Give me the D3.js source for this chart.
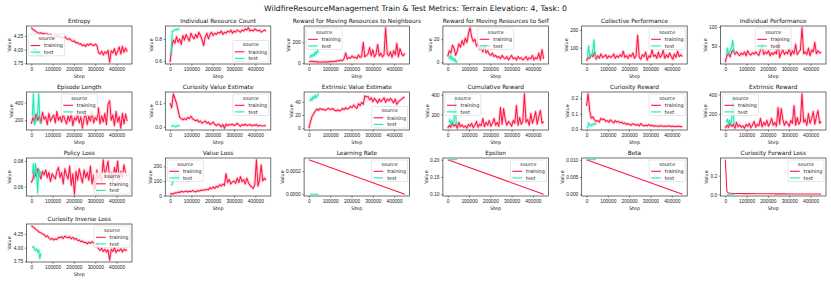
<!DOCTYPE html>
<html>
<head>
<meta charset="utf-8">
<script src="https://cdn.jsdelivr.net/npm/d3@7"></script>
<style>
  body { margin: 0; background: #fff; }
  svg { display: block; font-family: "DejaVu Sans", sans-serif; }
  .axis text { font-size: 4.85px; fill: #222; }
  .axis line { stroke: #333; stroke-width: 0.6; }
  .axis .domain { display: none; }
</style>
</head>
<body>
<script>
const figTitle = "WildfireResourceManagement Train & Test Metrics: Terrain Elevation: 4, Task: 0"
const colors = {training: "#ff1744", test: "#1de9b6"}

// x values shared by most panels
const trainSteps = [
  0, 7500, 15000, 22500, 30000, 37500, 45000, 52500, 60000, 67500,
  75000, 82500, 90000, 97500, 105000, 112500, 120000, 127500, 135000, 142500,
  150000, 157500, 165000, 172500, 180000, 187500, 195000, 202500, 210000, 217500,
  225000, 232500, 240000, 247500, 255000, 262500, 270000, 277500, 285000, 292500,
  300000, 307500, 315000, 322500, 330000, 337500, 345000, 352500, 360000, 367500,
  375000, 382500, 390000, 397500, 405000, 412500, 420000, 427500, 435000, 442500,
  450000]
const testSteps = [5000, 10000, 15000, 20000, 25000, 30000, 35000, 40000, 45000]
const scheduleSteps = [0, 450000]
const scheduleTestSteps = [5000, 45000]
const xTickLabels = ["0", "100000", "200000", "300000", "400000"]

const entropyTrain = [
  4.40, 4.37, 4.35, 4.33, 4.31, 4.30, 4.31, 4.29, 4.30, 4.28,
  4.29, 4.27, 4.28, 4.22, 4.18, 4.24, 4.25, 4.23, 4.24, 4.22,
  4.21, 4.24, 4.20, 4.19, 4.20, 4.17, 4.15, 4.16, 4.12, 4.13,
  4.10, 4.11, 4.07, 4.09, 4.06, 4.10, 4.08, 4.11, 4.09, 4.07,
  4.10, 4.08, 3.95, 3.92, 3.97, 3.90, 3.96, 3.93, 3.99, 3.77,
  3.98, 3.94, 4.02, 3.90, 3.97, 4.05, 3.92, 4.06, 3.95, 4.03,
  3.96]
const entropyTest = [4.05, 4.00, 3.98, 4.02, 3.95, 3.90, 3.97, 3.93, 3.88]
const entropyTicks = ["3.75", "4.00", "4.25"]

const resourceCountTrain = [
  0.59, 0.72, 0.79, 0.76, 0.82, 0.77, 0.80, 0.75, 0.83, 0.79,
  0.84, 0.81, 0.78, 0.85, 0.82, 0.80, 0.84, 0.81, 0.86, 0.83,
  0.79, 0.74, 0.82, 0.85, 0.80, 0.84, 0.86, 0.83, 0.85, 0.84,
  0.86, 0.85, 0.87, 0.84, 0.86, 0.85, 0.87, 0.86, 0.88, 0.85,
  0.87, 0.86, 0.88, 0.87, 0.86, 0.88, 0.87, 0.89, 0.88, 0.90,
  0.87, 0.88, 0.87, 0.89, 0.88, 0.87, 0.88, 0.86, 0.87, 0.88,
  0.87]
const resourceCountTest = [0.65, 0.87, 0.87, 0.88, 0.88, 0.89, 0.88, 0.89, 0.89]
const resourceCountTicks = ["0.6", "0.8"]

const neighboursTrain = [
  20, 15, 22, 12, 18, 10, 14, 9, 12, 11,
  13, 10, 15, 12, 18, 14, 20, 16, 25, 22,
  30, 24, 45, 100, 40, 55, 48, 70, 52, 60,
  45, 80, 55, 65, 200, 60, 75, 90, 150, 70,
  130, 60, 85, 180, 70, 95, 60, 80, 340, 90,
  70, 110, 55, 120, 80, 190, 60, 140, 90, 70,
  95]
const neighboursTest = [50, 80, 60, 90, 70, 110, 85, 125, 100]
const neighboursTicks = ["0", "200"]

const selfTrain = [
  5, 10, 8, 15, 12, 6, 10, 16, 13, 19,
  15, 21, 17, 25, 30, 22, 18, 20, 14, 16,
  11, 13, 9, 15, 8, 10, 7, 6, 8, 5,
  6, 4, 5, 3, 6, 4, 3, 5, 2, 4,
  6, 3, 4, 2, 5, 3, 4, 2, 3, 5,
  2, 4, 3, 6, 2, 4, 3, 8, 2, 11,
  3]
const selfTest = [5, 3, 6, 2, 4, 1, 3, 0, 1]
const selfTicks = ["0", "20"]

const collectiveTrain = [
  25, 45, 40, 60, 50, 75, 35, 55, 40, 65,
  45, 50, 60, 40, 55, 45, 50, 65, 40, 55,
  45, 60, 50, 80, 45, 55, 40, 60, 50, 70,
  40, 55, 170, 45, 35, 60, 50, 75, 30, 55,
  45, 90, 50, 60, 40, 75, 45, 55, 85, 40,
  60, 45, 70, 50, 35, 65, 45, 80, 50, 60,
  50]
const collectiveTest = [50, 110, 45, 60, 55, 90, 145, 60, 40]
const collectiveBand = [18, 212]
const collectiveTicks = ["100", "200"]

const indPerfTrain = [
  8, 25, 30, 22, 35, 40, 28, 35, 30, 25,
  32, 28, 35, 25, 38, 30, 27, 33, 29, 35,
  30, 26, 40, 55, 28, 35, 30, 38, 25, 33,
  28, 35, 30, 65, 20, 32, 40, 28, 35, 30,
  45, 25, 38, 30, 55, 28, 35, 40, 98, 30,
  35, 28, 45, 25, 40, 35, 60, 30, 38, 32,
  35]
const indPerfTest = [25, 45, 30, 35, 40, 50, 65, 35, 30]
const indPerfTicks = ["50", "100"]

const episodeTrain = [
  160, 230, 180, 270, 200, 250, 170, 290, 210, 240,
  150, 280, 190, 230, 260, 170, 300, 200, 240, 180,
  270, 210, 160, 250, 190, 280, 140, 230, 200, 260,
  170, 240, 110, 220, 280, 150, 250, 190, 300, 170,
  230, 200, 340, 160, 250, 180, 280, 150, 380, 420,
  200, 260, 140, 300, 180, 240, 110, 280, 160, 270,
  190]
const episodeTest = [250, 500, 150, 180, 220, 300, 500, 200, 160]
const episodeTicks = ["200", "400"]

const curValueTrain = [
  0.10, 0.08, 0.14, 0.12, 0.10, 0.07, 0.04, 0.035, 0.03, 0.035,
  0.03, 0.04, 0.035, 0.045, 0.035, 0.03, 0.025, 0.03, 0.02, 0.025,
  0.015, 0.02, 0.025, 0.015, 0.02, 0.01, 0.015, 0.02, 0.01, 0.005,
  0.012, 0.008, 0.0, 0.01, -0.006, 0.012, 0.005, 0.01, 0.008, 0.012,
  0.005, 0.01, 0.015, 0.008, 0.002, 0.01, 0.006, 0.012, 0.005, 0.008,
  0.01, 0.004, 0.008, 0.006, 0.01, 0.003, 0.007, 0.005, 0.004, 0.006,
  0.003]
const curValueTest = [0.005, 0.003, 0.006, 0.002, 0.0, 0.004, 0.002, 0.006, 0.008]
const curValueTicks = ["0.0", "0.1"]

const extValueTrain = [
  0, 10, 18, 22, 26, 29, 27, 30, 28, 29,
  27, 28, 30, 29, 28, 30, 27, 26, 28, 26,
  27, 30, 28, 31, 29, 30, 33, 31, 35, 32,
  30, 37, 34, 39, 36, 49, 47, 48, 43, 46,
  40, 45, 42, 38, 44, 40, 43, 46, 39, 44,
  41, 45, 42, 38, 44, 36, 40, 42, 44, 46,
  47]
const extValueTest = [40, 45, 42, 48, 45, 50, 46, 49, 52]
const extValueTicks = ["0", "20", "40"]

const cumRewardTrain = [
  60, 90, 70, 110, 80, 100, 60, 120, 75, 95,
  70, 85, 60, 100, 80, 110, 65, 90, 130, 70,
  100, 85, 160, 75, 120, 90, 140, 80, 110, 160,
  90, 120, 80, 270, 100, 260, 150, 90, 130, 110,
  80, 140, 110, 290, 90, 170, 100, 130, 410, 120,
  150, 90, 210, 110, 160, 230, 100, 180, 240, 110,
  130]
const cumRewardTest = [120, 150, 90, 140, 100, 130, 380, 110, 100]
const cumRewardTicks = ["200", "400"]

const curRewardTrain = [
  0.15, 0.23, 0.12, 0.07, 0.08, 0.06, 0.05, 0.055, 0.045, 0.07,
  0.06, 0.065, 0.05, 0.055, 0.045, 0.06, 0.05, 0.04, 0.055, 0.045,
  0.05, 0.04, 0.045, 0.035, 0.04, 0.03, 0.035, 0.03, 0.025, 0.035,
  0.03, 0.025, 0.03, 0.02, 0.035, 0.025, 0.02, 0.025, 0.02, 0.03,
  0.02, 0.025, 0.018, 0.022, 0.02, 0.017, 0.022, 0.02, 0.018, 0.02,
  0.017, 0.021, 0.019, 0.016, 0.02, 0.015, 0.018, 0.016, 0.019, 0.015,
  0.016]
const curRewardTest = [0.005, 0.04, 0.03, 0.02, 0.03, 0.025, 0.035, 0.03, 0.04]
const curRewardTicks = ["0.0", "0.1", "0.2"]

const extRewardTrain = [
  58, 88, 68, 108, 78, 98, 58, 118, 73, 93,
  68, 83, 58, 98, 78, 108, 63, 88, 128, 68,
  98, 83, 158, 73, 118, 88, 138, 78, 108, 158,
  88, 118, 78, 268, 98, 258, 148, 88, 128, 108,
  78, 138, 108, 288, 88, 168, 98, 128, 408, 118,
  148, 88, 208, 108, 158, 228, 98, 178, 238, 108,
  128]
const extRewardTest = [120, 150, 90, 140, 100, 130, 380, 110, 100]
const extRewardTicks = ["200", "400"]

const policyTrain = [
  0.063, 0.066, 0.072, 0.068, 0.074, 0.070, 0.066, 0.072, 0.069, 0.073,
  0.067, 0.071, 0.064, 0.070, 0.068, 0.066, 0.072, 0.075, 0.067, 0.071,
  0.062, 0.074, 0.069, 0.066, 0.076, 0.061, 0.070, 0.054, 0.072, 0.065,
  0.074, 0.068, 0.063, 0.073, 0.067, 0.071, 0.065, 0.076, 0.062, 0.069,
  0.058, 0.073, 0.066, 0.070, 0.064, 0.081, 0.068, 0.074, 0.080, 0.066,
  0.071, 0.063, 0.075, 0.069, 0.080, 0.065, 0.072, 0.067, 0.077, 0.070,
  0.068]
const policyTest = [0.070, 0.078, 0.066, 0.078, 0.070, 0.055, 0.074, 0.068, 0.072]
const policyTicks = ["0.06", "0.08"]

const valueLossTrain = [
  10, 15, 12, 20, 18, 25, 22, 30, 25, 28,
  32, 26, 30, 28, 35, 30, 26, 34, 30, 38,
  35, 42, 38, 45, 40, 55, 48, 60, 50, 65,
  58, 75, 65, 80, 70, 150, 90, 110, 80, 95,
  100, 85, 120, 90, 130, 95, 110, 80, 120, 90,
  70, 60, 50, 75, 245, 65, 110, 210, 100, 120,
  105]
const valueLossTest = [70, 80, 100, 130, 160, 120, 140, 110, 150]
const valueLossTicks = ["0", "100", "200"]

const lrTrain = [0.0003, 0.0000005]
const lrTest = [0.000001, 0.000001]
const lrTicks = ["0.0000", "0.0002"]

const epsilonTrain = [0.2, 0.1]
const epsilonTest = [0.2, 0.2]
const epsilonTicks = ["0.10", "0.15", "0.20"]

const betaTrain = [0.01, 0.00001]
const betaTest = [0.01, 0.01]
const betaTicks = ["0.000", "0.005", "0.010"]

const fwdLossTrain = [
  0.37, 0.03, 0.016, 0.013, 0.012, 0.011, 0.011, 0.010, 0.010, 0.010,
  0.010, 0.009, 0.010, 0.009, 0.009, 0.009, 0.008, 0.009, 0.008, 0.008,
  0.008, 0.008, 0.008, 0.007, 0.008, 0.007, 0.007, 0.007, 0.007, 0.007,
  0.007, 0.006, 0.007, 0.006, 0.006, 0.006, 0.006, 0.006, 0.006, 0.005,
  0.006, 0.005, 0.005, 0.005, 0.005, 0.005, 0.005, 0.005, 0.004, 0.005,
  0.004, 0.005, 0.004, 0.004, 0.004, 0.004, 0.004, 0.004, 0.004, 0.004,
  0.004]
const fwdLossTest = [0.004, 0.003, 0.003, 0.002, 0.002, 0.002, 0.002, 0.002, 0.002]
const fwdLossTicks = ["0.0", "0.2"]

const invLossTrain = [
  4.40, 4.38, 4.36, 4.33, 4.31, 4.28, 4.27, 4.25, 4.24, 4.20,
  4.22, 4.18, 4.15, 4.17, 4.14, 4.16, 4.15, 4.19, 4.18, 4.20,
  4.17, 4.21, 4.19, 4.18, 4.20, 4.16, 4.19, 4.15, 4.17, 4.13,
  4.14, 4.11, 4.12, 4.09, 4.10, 4.07, 4.10, 4.08, 4.11, 4.09,
  4.06, 4.08, 3.98, 3.95, 3.99, 3.93, 3.97, 3.92, 3.96, 3.77,
  3.97, 3.93, 4.00, 3.91, 3.96, 3.94, 3.98, 3.92, 3.97, 3.95,
  3.96]
const invLossTest = [4.00, 4.02, 3.97, 3.95, 3.98, 3.92, 3.96, 3.80, 3.90]
const invLossTicks = ["3.75", "4.00", "4.25"]

const panels = [
  {title: "Entropy", train: entropyTrain, test: entropyTest, ticks: entropyTicks, legend: "cl"},
  {title: "Individual Resource Count", train: resourceCountTrain, test: resourceCountTest, ticks: resourceCountTicks, legend: "lr"},
  {title: "Reward for Moving Resources to Neighbours", train: neighboursTrain, test: neighboursTest, ticks: neighboursTicks, legend: "ul"},
  {title: "Reward for Moving Resources to Self", train: selfTrain, test: selfTest, ticks: selfTicks, legend: "uc"},
  {title: "Collective Performance", train: collectiveTrain, test: collectiveTest, ticks: collectiveTicks, legend: "ur", band: collectiveBand},
  {title: "Individual Performance", train: indPerfTrain, test: indPerfTest, ticks: indPerfTicks, legend: "uc"},
  {title: "Episode Length", train: episodeTrain, test: episodeTest, ticks: episodeTicks, legend: "uc"},
  {title: "Curiosity Value Estimate", train: curValueTrain, test: curValueTest, ticks: curValueTicks, legend: "ur"},
  {title: "Extrinsic Value Estimate", train: extValueTrain, test: extValueTest, ticks: extValueTicks, legend: "lr"},
  {title: "Cumulative Reward", train: cumRewardTrain, test: cumRewardTest, ticks: cumRewardTicks, legend: "ul"},
  {title: "Curiosity Reward", train: curRewardTrain, test: curRewardTest, ticks: curRewardTicks, legend: "ur"},
  {title: "Extrinsic Reward", train: extRewardTrain, test: extRewardTest, ticks: extRewardTicks, legend: "ul"},
  {title: "Policy Loss", train: policyTrain, test: policyTest, ticks: policyTicks, legend: "lr"},
  {title: "Value Loss", train: valueLossTrain, test: valueLossTest, ticks: valueLossTicks, legend: "ul"},
  {title: "Learning Rate", train: lrTrain, test: lrTest, ticks: lrTicks, legend: "ur", steps: scheduleSteps, testSteps: scheduleTestSteps, flat: true},
  {title: "Epsilon", train: epsilonTrain, test: epsilonTest, ticks: epsilonTicks, legend: "ur", steps: scheduleSteps, testSteps: scheduleTestSteps, flat: true},
  {title: "Beta", train: betaTrain, test: betaTest, ticks: betaTicks, legend: "ur", steps: scheduleSteps, testSteps: scheduleTestSteps, flat: true},
  {title: "Curiosity Forward Loss", train: fwdLossTrain, test: fwdLossTest, ticks: fwdLossTicks, legend: "ur", flat: true},
  {title: "Curiosity Inverse Loss", train: invLossTrain, test: invLossTest, ticks: invLossTicks, legend: "ur"}
]

const W = 831, H = 283
const grid = {left: 26.5, top: 26, dx: 138.8, dy: 66, w: 105.5, h: 38}
const fs = 4.85

const svg = d3.select("body").append("svg")
    .attr("width", W)
    .attr("height", H)

svg.append("text")
    .attr("x", W / 2)
    .attr("y", 11)
    .attr("text-anchor", "middle")
    .style("font-size", "7.7px")
    .style("fill", "#111")
    .text(figTitle)

const xExt = d3.extent(trainSteps)
const xPad = (xExt[1] - xExt[0]) * 0.05
const x = d3.scaleLinear().domain([xExt[0] - xPad, xExt[1] + xPad]).range([0, grid.w])

panels.forEach(function(p, i){
  const col = i % 6, row = Math.floor(i / 6)
  const g = svg.append("g")
      .attr("transform", "translate(" + (grid.left + col * grid.dx) + "," + (grid.top + row * grid.dy) + ")")

  const steps = p.steps || trainSteps
  const tSteps = p.testSteps || testSteps
  const ext = d3.extent(p.train.concat(p.test, p.band || []))
  const pad = (ext[1] - ext[0]) * 0.05
  const y = d3.scaleLinear().domain([ext[0] - pad, ext[1] + pad]).range([grid.h, 0])

  const line = d3.line().x(d => x(d[0])).y(d => y(d[1]))
  const series = [
    {key: "training", pts: d3.zip(steps, p.train)},
    {key: "test", pts: d3.zip(tSteps, p.test)}
  ]

  // x axis
  g.append("g")
      .attr("class", "axis")
      .attr("transform", "translate(0," + grid.h + ")")
      .call(d3.axisBottom(x)
        .tickValues(xTickLabels.map(Number))
        .tickFormat((d, k) => xTickLabels[k])
        .tickSize(1.7).tickPadding(1.7))

  // y axis
  const yAxis = g.append("g")
      .attr("class", "axis")
      .call(d3.axisLeft(y)
        .tickValues(p.ticks.map(Number))
        .tickFormat((d, k) => p.ticks[k])
        .tickSize(1.7).tickPadding(1.7))

  const bb = yAxis.node().getBBox()

  g.append("text")
      .attr("transform", "translate(" + (bb.x - 2.2) + "," + (grid.h / 2) + ") rotate(-90)")
      .attr("text-anchor", "middle")
      .style("font-size", fs + "px")
      .style("fill", "#222")
      .text("Value")

  g.append("text")
      .attr("x", grid.w / 2)
      .attr("y", grid.h + 13.6)
      .attr("text-anchor", "middle")
      .style("font-size", fs + "px")
      .style("fill", "#222")
      .text("Step")

  g.append("text")
      .attr("x", grid.w / 2)
      .attr("y", -3)
      .attr("text-anchor", "middle")
      .style("font-size", "5.8px")
      .style("fill", "#111")
      .text(p.title)

  // faint band under each line, stands in for the confidence interval
  if (!p.flat) {
    g.selectAll(".band").data(series).enter().append("path")
        .attr("class", "band")
        .attr("d", d => line(d.pts))
        .attr("fill", "none")
        .attr("stroke", d => colors[d.key])
        .attr("stroke-opacity", 0.2)
        .attr("stroke-width", 3)
        .attr("stroke-linejoin", "round")
  }

  g.selectAll(".series").data(series).enter().append("path")
      .attr("class", "series")
      .attr("d", d => line(d.pts))
      .attr("fill", "none")
      .attr("stroke", d => colors[d.key])
      .attr("stroke-width", 1.05)
      .attr("stroke-linejoin", "round")

  g.append("rect")
      .attr("width", grid.w)
      .attr("height", grid.h)
      .attr("fill", "none")
      .attr("stroke", "#333")
      .attr("stroke-width", 0.7)

  drawLegend(g, p.legend)
})

function drawLegend(g, loc){
  const lw = 36, lh = 21.5, m = 2
  const lx = loc[1] == "l" ? m : loc[1] == "r" ? grid.w - lw - m : (grid.w - lw) / 2
  const ly = loc[0] == "u" ? m : loc[0] == "l" ? grid.h - lh - m : (grid.h - lh) / 2
  const lg = g.append("g").attr("transform", "translate(" + lx + "," + ly + ")")

  lg.append("rect")
      .attr("width", lw)
      .attr("height", lh)
      .attr("rx", 1)
      .attr("fill", "#fff")
      .attr("fill-opacity", 0.8)
      .attr("stroke", "#ccc")
      .attr("stroke-width", 0.5)

  lg.append("text")
      .attr("x", lw / 2)
      .attr("y", 5.8)
      .attr("text-anchor", "middle")
      .style("font-size", fs + "px")
      .style("fill", "#222")
      .text("source")

  const rows = lg.selectAll(".entry").data(["training", "test"]).enter().append("g")
      .attr("transform", (d, k) => "translate(0," + (11.3 + k * 6.6) + ")")

  rows.append("line")
      .attr("x1", 2).attr("x2", 11.7)
      .attr("stroke", d => colors[d])
      .attr("stroke-width", 1.1)

  rows.append("text")
      .attr("x", 15.6)
      .attr("dy", "0.35em")
      .style("font-size", fs + "px")
      .style("fill", "#222")
      .text(d => d)
}
</script>
</body>
</html>
